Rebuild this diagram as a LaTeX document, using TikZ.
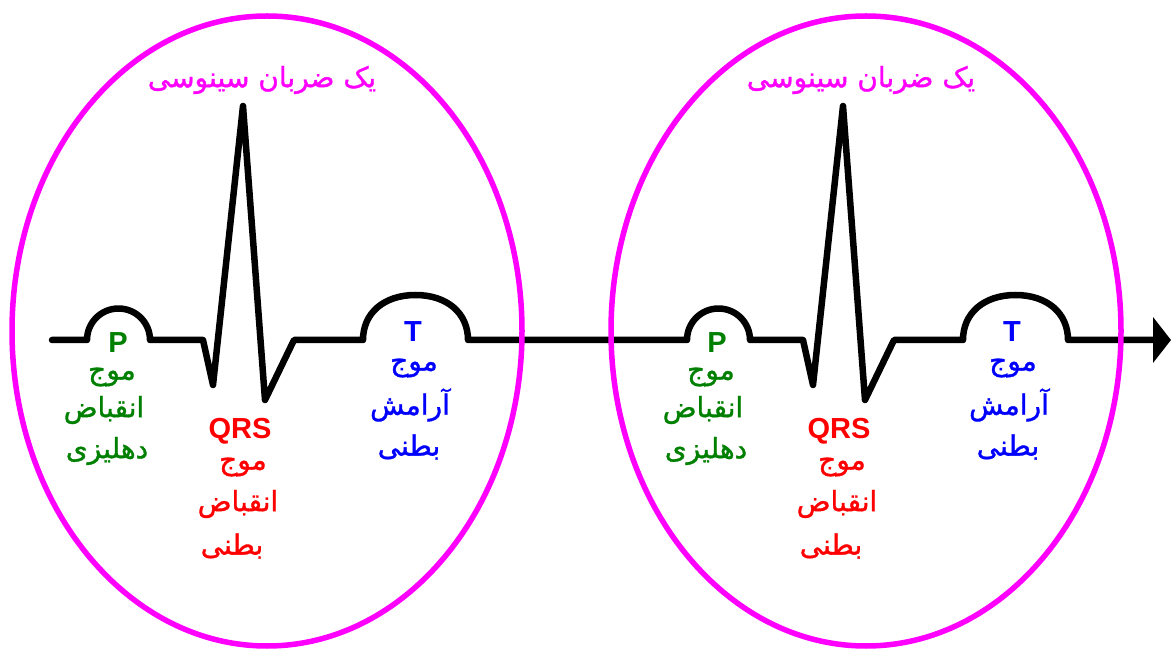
\documentclass[tikz,border=0pt]{standalone}
\usepackage{fontspec}
\setmainfont{Liberation Sans}
\newfontfamily\arabicfont[Script=Arabic,FakeBold=1.2]{DejaVu Sans}
\TeXXeTstate=1
\usetikzlibrary{arrows.meta}
\definecolor{pgreen}{RGB}{0,128,0}
\definecolor{pred}{RGB}{255,0,0}
\definecolor{pblue}{RGB}{0,0,255}
\definecolor{pmag}{RGB}{255,0,255}
\begin{document}
\begin{tikzpicture}[x=1pt,y=-1pt,
  ring/.style={draw=pmag, line width=5.5pt},
  ecg/.style={draw=black, line width=6.5pt, line cap=round, line join=round},
  lat/.style={font=\fontsize{29}{29}\selectfont\bfseries, inner sep=0pt},
  fa/.style={font=\arabicfont\fontsize{28}{28}\selectfont, inner sep=0pt},
  ttl/.style={fa, text=pmag}]
\useasboundingbox (0,0) rectangle (1171,652);
% ECG trace
\draw[ecg, -{Triangle[length=18pt,width=45pt]}]
  (52,340) -- (87,340)
  .. controls (87,322.6) and (101.1,308.5) .. (118.5,308.5)
  .. controls (135.9,308.5) and (150,322.6) .. (150,340)
  -- (203,340) -- (213,385) -- (243,106) -- (265,400) -- (294,340)
  -- (363,340)
  .. controls (363,313) and (384,295) .. (415.5,295)
  .. controls (447,295) and (468,313) .. (468,340)
  -- (687,340)
  .. controls (687,322.6) and (701.1,308.5) .. (718.5,308.5)
  .. controls (735.9,308.5) and (750,322.6) .. (750,340)
  -- (803,340) -- (813,385) -- (843,106) -- (865,400) -- (894,340)
  -- (963,340)
  .. controls (963,313) and (984,295) .. (1015.5,295)
  .. controls (1047,295) and (1068,313) .. (1068,340)
  -- (1171,340);
\foreach \dx/\i in {0/a,599/b}{
  \draw[ring] (267+\dx,331) ellipse [x radius=255, y radius=315];
  \node[ttl] (title\i) at (262+\dx,80) {\beginR یک ضربان سینوسی\endR};
  \node[lat, text=pgreen] (P\i) at (118+\dx,343) {P};
  \node[fa, text=pgreen] (Pa\i) at (112+\dx,377) {\beginR موج\endR};
  \node[fa, text=pgreen] (Pb\i) at (104+\dx,410) {\beginR انقباض\endR};
  \node[fa, text=pgreen] (Pc\i) at (107+\dx,451) {\beginR دهلیزی\endR};
  \node[lat, text=pred] (Q\i) at (240+\dx,431) {QRS};
  \node[fa, text=pred] (Qa\i) at (243+\dx,467) {\beginR موج\endR};
  \node[fa, text=pred] (Qb\i) at (238+\dx,504) {\beginR انقباض\endR};
  \node[fa, text=pred] (Qc\i) at (232+\dx,546) {\beginR بطنی\endR};
  \node[lat, text=pblue] (T\i) at (413+\dx,332) {T};
  \node[fa, text=pblue] (Ta\i) at (414+\dx,368) {\beginR موج\endR};
  \node[fa, text=pblue] (Tb\i) at (410+\dx,405) {\beginR آرامش\endR};
  \node[fa, text=pblue] (Tc\i) at (409+\dx,447) {\beginR بطنی\endR};
}
\end{tikzpicture}
\end{document}
